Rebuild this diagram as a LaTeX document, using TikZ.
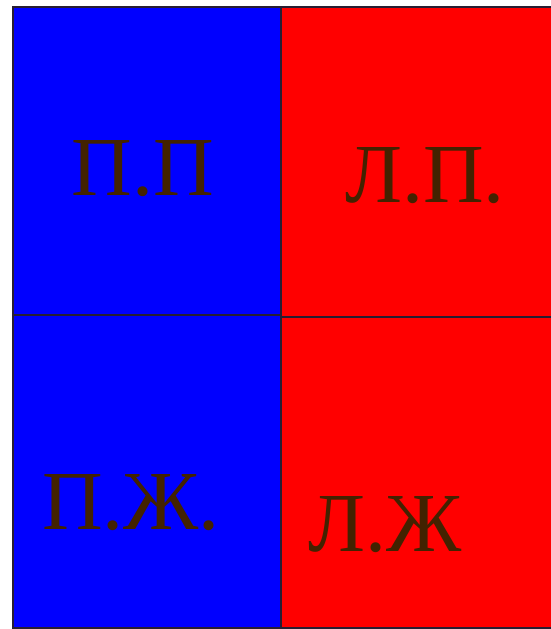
\documentclass[tikz,border=0pt]{standalone}
\usepackage{fontspec}
\setmainfont{Liberation Serif}
\usepackage{tikz}
\usetikzlibrary{positioning}
\definecolor{PureBlue}{RGB}{0, 0, 255}
\definecolor{PureRed}{RGB}{255, 0, 0}
\definecolor{DarkBrown}{RGB}{67, 34, 0}
\definecolor{EdgeGray}{RGB}{40, 30, 50}
\tikzset{
    cell/.style={rectangle, draw=EdgeGray, line width=1.5pt, inner sep=0pt, minimum width=268pt},
    tag/.style={anchor=base, inner sep=0pt, text=DarkBrown, font=\fontsize{84}{88}\selectfont},
}

\begin{document}
\begin{tikzpicture}[x=1pt, y=-1pt]
            \useasboundingbox (0,0) rectangle (551,629);
            % four cells
            \node[cell, fill=PureBlue, minimum height=309pt, anchor=north west] (pp) at (12,6) {};
            \node[cell, fill=PureBlue, minimum height=313pt, anchor=north west] (pzh) at (12,314) {};
            \node[cell, fill=PureRed, minimum width=275pt, minimum height=311pt, anchor=north west] (lp) at (280,6) {};
            \node[cell, fill=PureRed, minimum width=275pt, minimum height=311pt, anchor=north west] (lzh) at (280,316) {};
            % labels
            \node[tag] (ppText) at (143,195) {П.П};
            \node[tag] (lpText) at (425,202) {Л.П.};
            \node[tag] (pzhText) at (131,529) {П.Ж.};
            \node[tag] (lzhText) at (385,551) {Л.Ж};
        \end{tikzpicture}
\end{document}
